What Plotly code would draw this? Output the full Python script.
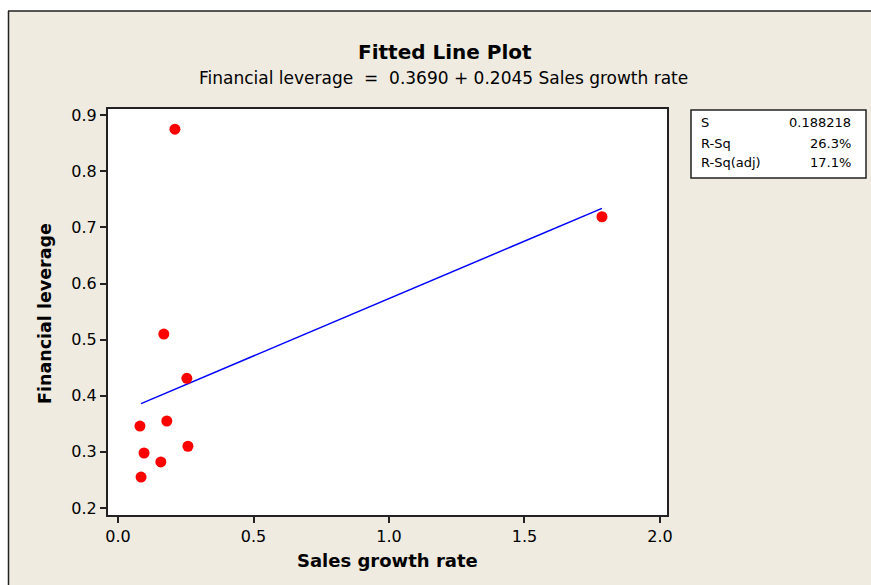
import plotly.graph_objects as go

# Data
sales_growth = [0.21, 1.786, 0.169, 0.254, 0.081, 0.180, 0.096, 0.258, 0.158, 0.085]
fin_leverage = [0.875, 0.719, 0.510, 0.431, 0.346, 0.355, 0.298, 0.310, 0.282, 0.255]
fit_x = [0.085, 1.786]
fit_y = [0.386, 0.734]
x_ticks = [0.0, 0.5, 1.0, 1.5, 2.0]
x_tick_labels = ["0.0", "0.5", "1.0", "1.5", "2.0"]
y_ticks = [0.2, 0.3, 0.4, 0.5, 0.6, 0.7, 0.8, 0.9]
y_tick_labels = ["0.2", "0.3", "0.4", "0.5", "0.6", "0.7", "0.8", "0.9"]
stat_names = ["S", "R-Sq", "R-Sq(adj)"]
stat_values = ["0.188218", "26.3%", "17.1%"]

BG = "#EFEBE1"
FONT = "DejaVu Sans"

fig = go.Figure()
fig.add_trace(go.Scatter(x=fit_x, y=fit_y, mode="lines",
                         line=dict(color="#0000FF", width=1.5), hoverinfo="skip"))
fig.add_trace(go.Scatter(x=sales_growth, y=fin_leverage, mode="markers",
                         marker=dict(color="#FF0000", size=11)))

W, H = 871, 585
# plot area in page pixel coords
L, R, T, B = 108, 667, 109, 515
pw, ph = R - L, B - T
def px(x):
    return (x - L) / pw
def py(y):
    return (B - y) / ph

fig.update_layout(
    width=W, height=H,
    margin=dict(l=L, r=W - R, t=T, b=H - B, pad=0),
    paper_bgcolor=BG, plot_bgcolor="white",
    showlegend=False,
    font=dict(family=FONT, color="black"),
    xaxis=dict(range=[-0.037, 2.026], tickvals=x_ticks, ticktext=x_tick_labels,
               showgrid=False, zeroline=False, showline=True, mirror=True,
               linecolor="#222222", linewidth=2, ticks="outside", ticklen=6,
               tickcolor="#222222", tickwidth=1.5, tickfont=dict(size=16, family=FONT)),
    yaxis=dict(range=[0.1875, 0.911], tickvals=y_ticks, ticktext=y_tick_labels,
               showgrid=False, zeroline=False, showline=True, mirror=True,
               linecolor="#222222", linewidth=2, ticks="outside", ticklen=6,
               tickcolor="#222222", tickwidth=1.5, tickfont=dict(size=16, family=FONT)),
)

ann = []
ann.append(dict(text="<b>Fitted Line Plot</b>", x=px(445), y=py(52), xref="paper", yref="paper",
                showarrow=False, font=dict(size=20, family=FONT), xanchor="center", yanchor="middle"))
ann.append(dict(text="Financial leverage  =  0.3690 + 0.2045 Sales growth rate", x=px(443), y=py(78),
                xref="paper", yref="paper", showarrow=False, font=dict(size=17, family=FONT),
                xanchor="center", yanchor="middle"))
ann.append(dict(text="<b>Financial leverage</b>", x=px(45), y=py(314), xref="paper", yref="paper",
                showarrow=False, textangle=-90, font=dict(size=17.5, family=FONT),
                xanchor="center", yanchor="middle"))
ann.append(dict(text="<b>Sales growth rate</b>", x=px(387), y=py(560), xref="paper", yref="paper",
                showarrow=False, font=dict(size=18, family=FONT), xanchor="center", yanchor="middle"))
row_y = [123, 143, 162]
for name, val, yy in zip(stat_names, stat_values, row_y):
    ann.append(dict(text=name, x=px(699), y=py(yy), xref="paper", yref="paper", showarrow=False,
                    font=dict(size=13, family=FONT), xanchor="left", yanchor="middle"))
    ann.append(dict(text=val, x=px(853), y=py(yy), xref="paper", yref="paper", showarrow=False,
                    font=dict(size=13, family=FONT), xanchor="right", yanchor="middle"))
fig.update_layout(annotations=ann)

shapes = []
# white page area outside the outer frame
shapes.append(dict(type="rect", xref="paper", yref="paper", x0=px(-5), x1=px(8), y0=py(600), y1=py(-5),
                   fillcolor="white", line=dict(width=0), layer="above"))
shapes.append(dict(type="rect", xref="paper", yref="paper", x0=px(-5), x1=px(880), y0=py(11), y1=py(-5),
                   fillcolor="white", line=dict(width=0), layer="above"))
shapes.append(dict(type="rect", xref="paper", yref="paper", x0=px(691), x1=px(866), y0=py(178), y1=py(110),
                   fillcolor="white", line=dict(color="#222222", width=1.5), layer="below"))
shapes.append(dict(type="line", xref="paper", yref="paper", x0=px(8.5), x1=px(8.5), y0=py(600), y1=py(11),
                   line=dict(color="#222222", width=1.5)))
shapes.append(dict(type="line", xref="paper", yref="paper", x0=px(8), x1=px(900), y0=py(11), y1=py(11),
                   line=dict(color="#222222", width=1.5)))
fig.update_layout(shapes=shapes)

fig.write_html("out.html", config={"displayModeBar": False},
               post_script="document.body.style.margin='0';document.body.style.overflow='hidden';")
